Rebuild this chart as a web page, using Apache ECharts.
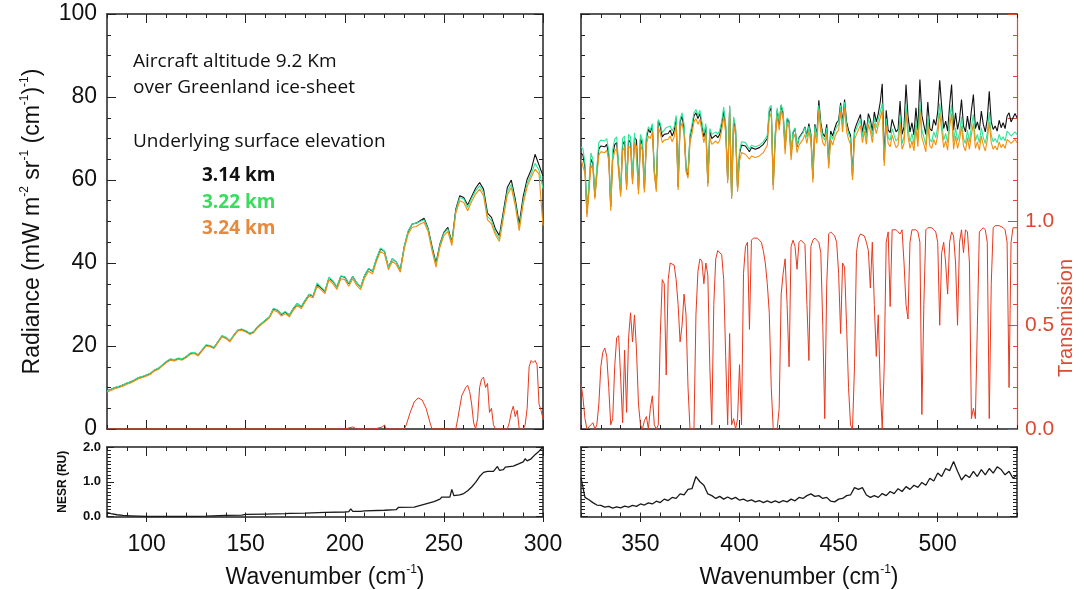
<!DOCTYPE html>
<html><head><meta charset="utf-8">
<script src="https://cdn.jsdelivr.net/npm/echarts@6/dist/echarts.min.js"></script>
<style>html,body{margin:0;padding:0;background:#fff}#c{width:1084px;height:590px}</style>
</head><body><div id="c"></div>
<script>
function range(a,b,s){const r=[];for(let v=a;v<=b+1e-9;v+=s)r.push(Math.round(v*100)/100);return r;}
// wavenumber sample grids (cm-1)
const wLeft = range(80,300,2);
const wRight = range(320,540,1);
const wNesrRight = range(320,540,2);

// Radiance, left panel (80-300 cm-1, step 2)
const radLeft314 = [9.3,9.6,10.0,10.2,10.6,11.0,11.4,11.8,12.4,12.6,
13.0,13.4,14.2,14.6,15.4,16.2,16.8,16.6,17.0,16.8,
17.4,18.2,18.4,17.8,19.0,20.2,20.0,19.6,21.0,22.4,
22.0,21.2,22.6,23.8,24.0,23.6,23.0,23.4,24.6,25.4,
26.2,27.0,29.0,28.6,27.6,28.2,27.4,29.0,30.2,29.4,
31.0,32.4,32.0,34.8,34.0,33.2,36.4,35.6,34.2,36.8,
36.6,35.0,36.8,35.2,34.2,37.0,38.6,38.0,41.0,43.4,
42.8,39.0,41.0,40.2,38.4,44.0,47.6,49.4,49.6,50.2,
50.8,48.4,44.0,40.0,44.6,47.4,48.6,45.0,53.0,56.2,
55.8,54.0,56.0,58.0,59.4,57.8,52.0,51.0,48.2,46.6,
52.4,58.2,60.0,55.4,49.4,56.0,60.2,62.4,66.2,63.6,
61.0];
const radLeft322 = [9.2,9.6,10.0,10.3,10.6,11.1,11.4,11.9,12.4,12.7,
13.1,13.5,14.3,14.7,15.5,16.3,16.9,16.7,17.1,16.9,
17.5,18.3,18.5,17.9,19.1,20.3,20.1,19.7,21.1,22.5,
22.1,21.3,22.7,23.9,24.1,23.7,23.1,23.5,24.7,25.5,
26.3,27.1,29.1,28.7,27.7,28.3,27.5,29.1,30.3,29.5,
31.1,32.5,32.1,35.2,34.2,33.3,36.6,35.7,34.3,36.9,
36.7,35.1,36.8,35.2,34.2,37.1,38.7,38.1,41.2,43.6,
42.9,39.0,41.1,40.2,38.4,44.0,47.8,49.4,49.6,50.0,
50.4,48.2,43.6,39.6,44.4,47.2,48.2,44.8,52.6,55.8,
55.4,53.4,55.6,57.4,58.6,57.0,51.2,50.2,47.4,45.8,
51.6,57.2,59.0,54.6,48.4,55.0,59.2,61.4,64.0,62.4,
58.0];
const radLeft324 = [8.9,9.3,9.7,10.0,10.3,10.8,11.1,11.6,12.1,12.4,
12.8,13.2,14.0,14.4,15.2,16.0,16.6,16.4,16.8,16.6,
17.2,18.0,18.2,17.6,18.8,20.0,19.8,19.4,20.8,22.2,
21.8,21.0,22.4,23.6,23.8,23.4,22.8,23.2,24.4,25.2,
26.0,26.8,28.6,28.2,27.2,27.8,27.0,28.6,29.8,29.0,
30.6,32.0,31.6,34.4,33.6,32.6,36.0,35.0,33.6,36.2,
36.0,34.4,36.2,34.6,33.6,36.4,38.0,37.4,40.4,42.8,
42.2,38.4,40.4,39.6,37.8,43.4,47.0,48.6,48.8,49.4,
49.8,47.6,43.0,39.0,43.8,46.6,47.6,44.2,52.0,55.0,
54.6,52.6,54.8,56.6,57.8,56.2,50.4,49.4,46.8,45.2,
50.8,56.4,58.2,53.8,47.8,54.2,58.4,60.6,62.6,61.4,
49.0];

// Radiance, right panel (320-540 cm-1, step 1)
const radRight314 = [66.5,66,63,52,58,65,64,56,62,67.5,
68.2,68.5,68,68.6,66,53.5,66,68.5,69,68.8,
57,68.5,69.4,58.5,69.6,69,60,70.2,69.6,57.6,
70,68.4,57.8,70,72.2,71.4,73.2,62,58,74.2,
73,70.4,71,71.4,71.2,72,70.6,71.8,75,58.4,
74,75.4,72.4,63,61.2,70.4,72.6,75.4,76.2,74.8,
76,73.2,70.4,72.8,59.2,71.6,70,69.8,70.8,70.2,
71,73.4,76.6,72.8,60,77.6,56,74.6,72,58,
66.4,68.4,68.2,68.2,68,66.8,67.8,67.6,67.4,67.4,
67.8,68,68.6,68.2,70,76.4,77.4,58.8,70.6,76.8,
73.4,78,76,67.6,74.6,74,66,71.4,72.4,68,
70.2,69.8,71.6,72.8,70.6,73.6,71,60.4,73.4,70.8,
79.2,73.8,71.2,70.4,73.4,64,71.8,70.6,72.4,73.8,
74.4,78.6,73.8,79.4,74,72,70.8,61,72,73.4,
73.6,75.8,71.4,74.4,71.2,76,74.6,71.8,76.4,74,
76,78.8,83.2,64.8,76.8,72,71.4,74.6,73,71.6,
72.2,79,71,72.8,83,75.4,71.6,73.8,70.8,77.4,
72,84.2,75.6,73.2,71,78.8,72.4,71.8,74.6,73.2,
76.4,84,77.6,72.4,74.2,71.8,78,83,72,76.2,
72.2,74.6,79.4,73,71.6,75.4,72.2,76.8,80.6,72.4,
74,72,76.6,73.4,71.6,74.6,81.4,74,72.2,73,
71.8,74.4,72.6,73.8,72.4,75.4,76.2,74,73.6,76,
75];
const radRight322 = [68,67.5,64,52.5,59,66.5,65,56.5,63,69,
69.6,70,69.4,70,67,54,67.4,69.8,70.4,70.2,
57.4,70,70.6,59,71,70.4,60.4,71.4,71,58,
71,69.6,58.2,70.8,72.8,72,73.6,62.4,58.4,74.6,
73.6,71.4,72,72.6,72.2,73,71.8,72.8,75.6,58.8,
74.6,76.2,73.4,63.4,61.6,71,73.4,76.2,77,75.6,
76.8,74,71.2,73.6,59.6,72.4,71,70.6,71.6,71,
72,74.2,77.6,73.6,60.4,78,56.4,75.2,72.8,58.4,
67,69.2,69,69,68.6,67.4,68.4,68.2,68,68,
68.4,68.6,69.2,69,70.8,77.4,78,59.2,71.4,77.4,
74,78.2,76.4,68,75,74.4,66.4,71.6,72.6,68.2,
70,69.6,71.4,72.6,70.2,73,70.6,60.6,73,70.2,
78,73.2,70.4,69.6,72.6,63.8,71,69.8,71.6,72.8,
73.4,78,73,78.8,73.2,71.2,70,60.8,71.2,72.4,
72.6,74.6,70.4,73.2,70,74.8,73.2,70.4,75,72.6,
74.6,76.4,78.4,64.4,74.8,70.2,69.6,72.4,70.8,69.4,
70,75.6,68.8,70.4,78.2,72.4,69.2,71.2,68.6,74.2,
69.6,78.8,72,70.4,68.4,75.4,69.8,69.2,71.6,70.2,
72.8,78.4,74,69.6,71.2,69,74.8,78.2,69.2,72.6,
69.4,71.4,75.2,70,68.8,72,69.2,73,75.8,69.4,
71,69,72.6,70.2,68.8,71.4,76.4,70.8,69.2,70,
69,71,69.6,70.4,69.4,71.8,72.2,70.6,70.2,71.6,
71];
const radRight324 = [65,64.6,61.6,51,57,63.6,62.6,55.4,61,66,
66.8,67,66.6,67.2,64.6,52.6,64.6,67,67.6,67.4,
56,67,68,57.6,68.2,67.6,59,68.8,68.2,56.6,
68.6,67,57,68.6,70.6,70,71.6,61.2,57.2,72.6,
71.4,69,69.6,70,69.8,70.6,69.2,70.4,73.4,57.6,
72.4,73.8,71,62,60.4,69,71.2,74,74.8,73.4,
74.6,71.8,69,71.4,58.4,70.2,68.6,68.4,69.4,68.8,
69.6,72,75.2,71.4,59.2,76.2,55.4,73.4,70.6,57.2,
64.6,66.6,66.4,66.2,66,65,65.8,65.6,65.4,65.4,
65.8,66,66.6,66.4,68.4,75,76,57.6,69.4,75.6,
72,76.8,74.6,66.2,73.4,72.8,64.8,70,71,66.6,
68.4,68,69.8,71,68.8,71.8,69.2,59.4,71.6,68.8,
76.8,71.6,69,68.2,71.2,62.8,69.8,68.4,70.2,71.4,
72,76.6,71.6,77.4,71.8,69.8,68.6,60,69.8,71,
71.2,73.2,69,71.8,68.6,73.4,71.8,69,73.6,71.2,
73.2,75,76.8,63.4,73.2,68.8,68,70.8,69.2,67.8,
68.4,73.8,67.4,68.8,76.2,70.6,67.6,69.4,67,72.4,
68,76.6,70.2,68.6,66.8,73.4,68.2,67.6,69.8,68.4,
70.8,76.2,72,67.8,69.4,67.2,72.8,76,67.4,70.6,
67.6,69.6,73,68.2,67,70.2,67.4,71,73.6,67.6,
69.2,67.2,70.6,68.4,67,69.6,74,69,67.4,68.2,
67.2,69.2,67.8,68.6,67.6,69.8,70.2,68.8,68.4,69.8,
69];

// Transmission, left panel [wavenumber, transmission]
const transLeft = [[80,0],[200,0],[204,0.01],[205,0.015],[206,0],[215,0],[219,0.01],[220,0.02],[221,0],
[230,0],[231,0.02],[233,0.08],[235,0.13],[237,0.15],[239,0.14],[241,0.1],[243,0.03],[244,0],
[256,0],[257,0.05],[259,0.16],[261,0.2],[262,0.21],[263,0.18],[264,0.12],[265,0.03],[266,0],
[267,0.05],[268,0.2],[269,0.24],[270,0.25],[271,0.2],[272,0.22],[273,0.08],[274,0.1],[275,0.02],[276,0],
[282,0],[283,0.03],[284,0.08],[285,0.11],[286,0.06],[287,0.09],[288,0],[290,0],[291,0.02],
[292,0.1],[293,0.3],[294,0.33],[295,0.32],[296,0.33],[297,0.31],[298,0.12],[299,0.09],[300,0.05]];

// Transmission, right panel (320-540 cm-1, step 1)
const transRight = [0.22,0.15,0.05,0,0,0.02,0.03,0,0.02,0.12,
0.3,0.37,0.39,0.35,0.2,0.02,0.05,0.3,0.44,0.45,
0.25,0.03,0.38,0.08,0.44,0.56,0.42,0.55,0.38,0.12,
0.02,0,0.04,0.06,0,0.1,0.16,0.02,0,0.02,
0.45,0.72,0.7,0.26,0.72,0.8,0.8,0.79,0.72,0.6,
0.42,0.5,0.65,0.55,0.2,0,0,0,0.55,0.76,
0.82,0.81,0.7,0.8,0.74,0.3,0.02,0.6,0.82,0.86,
0.86,0.84,0.72,0.35,0.02,0.46,0.02,0.05,0,0.05,
0.31,0.02,0.75,0.88,0.9,0.48,0.91,0.92,0.92,0.92,
0.91,0.9,0.86,0.8,0.7,0.56,0.2,0,0,0,
0.1,0.65,0.75,0.82,0.6,0.3,0.88,0.91,0.88,0.77,
0.9,0.91,0.91,0.89,0.6,0.33,0.88,0.91,0.92,0.91,
0.9,0.85,0.5,0.05,0.7,0.94,0.95,0.94,0.93,0.9,
0.75,0.46,0.8,0.78,0.5,0.2,0.02,0,0.3,0.85,
0.92,0.94,0.94,0.93,0.9,0.86,0.68,0.9,0.6,0.35,
0.55,0.2,0,0.3,0.9,0.95,0.59,0.96,0.96,0.96,
0.95,0.94,0.96,0.8,0.6,0.53,0.9,0.96,0.96,0.96,
0.95,0.9,0.07,0.6,0.96,0.97,0.97,0.97,0.96,0.95,
0.9,0.5,0.85,0.9,0.8,0.65,0.9,0.95,0.93,0.8,
0.5,0.9,0.96,0.85,0.96,0.95,0.8,0.05,0.1,0.05,
0.5,0.95,0.96,0.97,0.96,0.9,0.05,0.7,0.97,0.98,
0.98,0.98,0.98,0.97,0.96,0.9,0.2,0.9,0.97,0.97,
0.97];

// NESR, left panel [wavenumber, NESR]
const nesrLeft = [[80,0.12],[82,0.08],[85,0.05],[88,0.03],[92,0.02],[96,0.01],[100,0.0],[110,0.0],[120,0.0],
[130,0.01],[140,0.03],[148,0.04],[150,0.06],[151,0.05],[160,0.07],[170,0.08],[171,0.11],[172,0.09],
[180,0.1],[190,0.12],[200,0.13],[202,0.14],[203,0.22],[204,0.15],[208,0.15],[209,0.19],[210,0.16],
[220,0.18],[226,0.2],[227,0.26],[228,0.22],[235,0.27],[240,0.35],[245,0.43],[248,0.5],[249,0.56],[250,0.53],
[253,0.56],[254,0.78],[255,0.6],[258,0.62],[260,0.66],[262,0.74],[264,0.85],[266,0.98],[268,1.15],
[270,1.27],[272,1.3],[275,1.3],[276,1.32],[277,1.44],[278,1.33],[280,1.35],[281,1.42],[282,1.38],
[285,1.45],[288,1.52],[290,1.57],[291,1.66],[292,1.6],[294,1.66],[296,1.78],[298,1.88],[300,2.0]];

// NESR, right panel (320-540 cm-1, step 2)
const nesrRight = [1.12,0.55,0.48,0.4,0.33,0.32,0.27,0.29,0.24,0.28,
0.25,0.3,0.27,0.32,0.29,0.36,0.33,0.39,0.36,0.44,
0.4,0.5,0.46,0.55,0.52,0.65,0.62,0.78,0.8,1.15,
1.0,0.9,0.65,0.6,0.52,0.58,0.5,0.56,0.5,0.55,
0.47,0.5,0.44,0.48,0.42,0.46,0.4,0.45,0.4,0.45,
0.4,0.46,0.42,0.5,0.45,0.55,0.52,0.6,0.65,0.58,
0.6,0.52,0.55,0.44,0.42,0.5,0.52,0.6,0.62,0.83,
0.78,0.83,0.62,0.55,0.6,0.55,0.66,0.6,0.72,0.66,
0.8,0.72,0.86,0.78,0.9,0.84,0.98,0.9,1.1,1.02,
1.25,1.15,1.38,1.32,1.58,1.3,1.05,1.2,1.12,1.3,
1.15,1.35,1.2,1.38,1.25,1.43,1.35,1.2,1.3,1.1,
1.2];

const leftTickLabels = [100,150,200,250,300];
const rightTickLabels = [350,400,450,500];
const leftMajor = [100,150,200,250,300];
const rightMajor = [350,400,450,500];

function zip(xs, ys){return xs.map((x,i)=>[x, ys[i]]);}

const FONT = 'Liberation Sans, Arial, Helvetica, sans-serif';
const AX = '#222';
const RED = '#e8381c';
const REDAX = '#dc4a32';
const BLACK = '#111111', GREEN = '#2ee59a', ORANGE = '#f0900c';

const rects = [
  {left:107, top:14, width:436, height:415},
  {left:581, top:14, width:436, height:415},
  {left:107, top:447, width:436, height:75},
  {left:581, top:447, width:436, height:75}
];
const grid = rects.concat(rects).map(r=>Object.assign({containLabel:false}, r));

function xMinor(gi, pos, min, max, extra){
  return Object.assign({
    type:'value', gridIndex:gi, position:pos, min:min, max:max, interval:10,
    axisLine:{show:true, onZero:false, lineStyle:{color:AX, width:1.5}},
    axisTick:{show:true, inside:true, length:4, lineStyle:{color:AX}},
    axisLabel:{show:false}, splitLine:{show:false}
  }, extra||{});
}
function xMajor(gi, pos, min, max, vals){
  return {
    type:'value', gridIndex:gi, position:pos, min:min, max:max,
    axisLine:{show:false, onZero:false},
    axisTick:{show:true, inside:true, length:9, customValues:vals, lineStyle:{color:AX}},
    axisLabel:{show:false}, splitLine:{show:false}
  };
}
const bottomLabel = (vals, name) => ({
  axisLabel:{show:true, customValues:vals, fontSize:23, color:'#111', fontFamily:FONT, margin:17},
  name: name, nameLocation:'middle', nameGap:47,
  nameTextStyle:{fontSize:23, color:'#111', fontFamily:FONT, rich:{
    a:{fontSize:23, fontFamily:FONT, color:'#111', lineHeight:28},
    s:{fontSize:12, fontFamily:FONT, color:'#111', verticalAlign:'top', lineHeight:14}
  }}
});
const wnName = '{a|Wavenumber (cm}{s|-1}{a|)}';

const xAxis = [
  xMinor(0,'bottom',80,300), xMinor(0,'top',80,300),
  xMinor(1,'bottom',320,540), xMinor(1,'top',320,540),
  xMinor(2,'bottom',80,300, bottomLabel(leftTickLabels, wnName)), xMinor(2,'top',80,300),
  xMinor(3,'bottom',320,540, bottomLabel(rightTickLabels, wnName)), xMinor(3,'top',320,540),
  xMajor(4,'bottom',80,300,leftMajor), xMajor(4,'top',80,300,leftMajor),
  xMajor(5,'bottom',320,540,rightMajor), xMajor(5,'top',320,540,rightMajor),
  xMajor(6,'bottom',80,300,leftMajor), xMajor(6,'top',80,300,leftMajor),
  xMajor(7,'bottom',320,540,rightMajor), xMajor(7,'top',320,540,rightMajor)
];

function yAx(gi, pos, min, max, interval, minorSplit, color, extra){
  return Object.assign({
    type:'value', gridIndex:gi, position:pos, min:min, max:max, interval:interval,
    axisLine:{show:true, onZero:false, lineStyle:{color:color, width:1.5}},
    axisTick:{show:true, inside:true, length:9, lineStyle:{color:color}},
    minorTick:{show:true, splitNumber:minorSplit, length:4, lineStyle:{color:color}},
    axisLabel:{show:false}, splitLine:{show:false}, minorSplitLine:{show:false}
  }, extra||{});
}
function yHidden(gi){
  return {type:'value', gridIndex:gi, min:0, max:1, show:false};
}
const radName = '{a|Radiance (mW m}{s|-2}{a| sr}{s|-1}{a| (cm}{s|-1}{a|)}{s|-1}{a|)}';
const yAxis = [
  yAx(0,'left',0,100,20,4,AX,{
    axisLabel:{show:true, fontSize:23, color:'#111', fontFamily:FONT, margin:10},
    name: radName, nameLocation:'middle', nameGap:60, nameRotate:90,
    nameTextStyle:{rich:{
      a:{fontSize:23, fontFamily:FONT, color:'#111', lineHeight:28},
      s:{fontSize:12, fontFamily:FONT, color:'#111', verticalAlign:'top', lineHeight:14}
    }}
  }),
  yAx(0,'right',0,2,0.4,4,AX),
  yAx(1,'left',0,100,20,4,AX),
  yAx(1,'right',0,2,0.5,5,REDAX,{
    axisLine:{show:true, onZero:false, lineStyle:{color:REDAX, width:1.2}},
    axisLabel:{show:true, fontSize:21, color:REDAX, fontFamily:FONT, margin:8,
      formatter:v=> v<=1.0001 ? v.toFixed(1) : ''}
  }),
  yAx(2,'left',0,2,1,10,AX,{
    axisTick:{show:true, inside:true, length:7, lineStyle:{color:AX}},
    minorTick:{show:true, splitNumber:10, length:4, lineStyle:{color:AX}},
    axisLabel:{show:true, fontSize:13, fontWeight:'bold', color:'#111', fontFamily:FONT, margin:6,
      formatter:v=>v.toFixed(1)},
    name:'NESR (RU)', nameLocation:'middle', nameGap:38, nameRotate:90,
    nameTextStyle:{fontSize:12, fontWeight:'bold', color:'#111', fontFamily:FONT}
  }),
  yAx(2,'right',0,2,1,10,AX,{axisTick:{show:true, inside:true, length:7, lineStyle:{color:AX}}}),
  yAx(3,'left',0,2,1,10,AX,{axisTick:{show:true, inside:true, length:7, lineStyle:{color:AX}}}),
  yAx(3,'right',0,2,1,10,AX,{axisTick:{show:true, inside:true, length:7, lineStyle:{color:AX}}}),
  yHidden(4), yHidden(5), yHidden(6), yHidden(7)
];

function line(data, xi, yi, color, w, z){
  return {type:'line', data:data, xAxisIndex:xi, yAxisIndex:yi, showSymbol:false, symbol:'none',
    lineStyle:{color:color, width:w||1}, itemStyle:{color:color}, z:z||2, clip:true, animation:false, silent:true};
}
const series = [
  line(zip(wLeft, radLeft314), 0, 0, BLACK, 1.1, 2),
  line(zip(wLeft, radLeft322), 0, 0, GREEN, 1.1, 3),
  line(zip(wLeft, radLeft324), 0, 0, ORANGE, 1.1, 4),
  line(transLeft, 0, 1, RED, 1, 5),
  line(zip(wRight, radRight314), 2, 2, BLACK, 1.1, 2),
  line(zip(wRight, radRight322), 2, 2, GREEN, 1.1, 3),
  line(zip(wRight, radRight324), 2, 2, ORANGE, 1.1, 4),
  line(zip(wRight, transRight), 2, 3, RED, 1, 5),
  line(nesrLeft, 4, 4, '#1a1a1a', 1.3, 2),
  line(zip(wNesrRight, nesrRight), 6, 6, '#1a1a1a', 1.3, 2)
];

const TF = '"Open Sans", Lato, sans-serif';
const graphic = [
  {type:'text', left:133, top:52, style:{text:'Aircraft altitude 9.2 Km', fontSize:19, fontFamily:TF, fill:'#111'}},
  {type:'text', left:133, top:78, style:{text:'over Greenland ice-sheet', fontSize:19, fontFamily:TF, fill:'#111'}},
  {type:'text', left:133, top:132, style:{text:'Underlying surface elevation', fontSize:19, fontFamily:TF, fill:'#111'}},
  {type:'text', left:202, top:166, style:{text:'3.14 km', fontSize:19, fontWeight:'bold', fontFamily:TF, fill:'#111'}},
  {type:'text', left:202, top:193, style:{text:'3.22 km', fontSize:19, fontWeight:'bold', fontFamily:TF, fill:'#3bdc5c'}},
  {type:'text', left:202, top:219, style:{text:'3.24 km', fontSize:19, fontWeight:'bold', fontFamily:TF, fill:'#e8893c'}},
  {type:'text', x:1066, y:318, rotation:Math.PI/2, style:{text:'Transmission', fontSize:20, fontFamily:FONT, fill:REDAX, align:'center', verticalAlign:'middle'}}
];

const chart = echarts.init(document.getElementById('c'), null, {renderer:'canvas'});
chart.setOption({animation:false, backgroundColor:'#fff', grid, xAxis, yAxis, series, graphic});
</script></body></html>
